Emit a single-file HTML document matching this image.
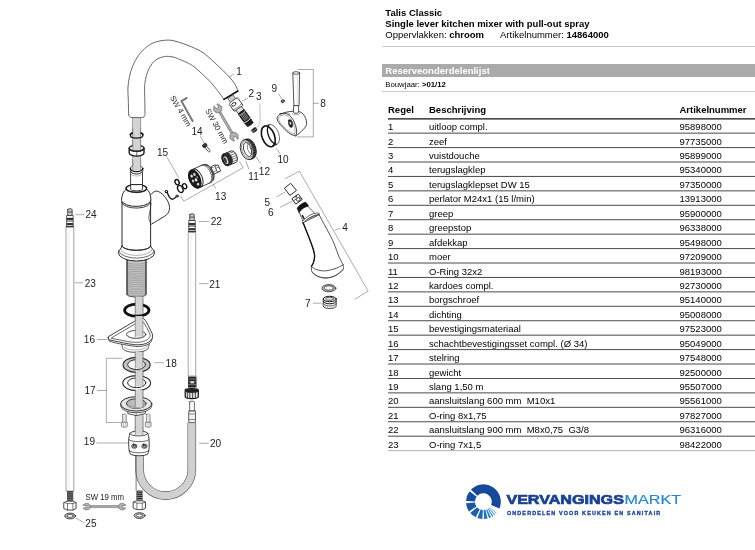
<!DOCTYPE html>
<html><head><meta charset="utf-8">
<style>
html,body{margin:0;padding:0;background:#fff;}
body{width:755px;height:550px;position:relative;overflow:hidden;font-family:"Liberation Sans",sans-serif;color:#000;}
.t{position:absolute;white-space:nowrap;font-size:9.4px;line-height:12px;}
.b{font-weight:bold;}
.r{position:absolute;left:0;height:14px;width:755px;font-size:9.5px;line-height:14px;white-space:nowrap;}
.r span{position:absolute;top:0;}
.c1{left:388px;}.c2{left:429px;}.c3{left:679.5px;}
.ln{position:absolute;left:388px;width:367px;height:1px;background:#4a4a4a;}
.hl{position:absolute;left:382px;width:373px;height:1px;background:#c8c8c8;}
#dg{position:absolute;left:0;top:0;}
#wrap{position:absolute;left:0;top:0;width:755px;height:550px;will-change:transform;background:transparent;}
</style></head><body><div id="wrap">

<svg id="dg" width="380" height="550" viewBox="0 0 380 550" fill="none" stroke="#2a2a2a" stroke-width="0.8" stroke-linecap="round" stroke-linejoin="round" font-family="Liberation Sans">
<rect x="132.8" y="116" width="7.8" height="50" fill="#d4d4d4" stroke="#666" stroke-width="0.6"/>
<path d="M128.6 114.5C128.6 112.1 128.4 104.4 128.3 100.0C128.2 95.6 127.7 91.9 127.9 88.0C128.1 84.1 128.7 80.3 129.5 76.6C130.3 72.9 131.2 69.5 132.7 66.0C134.2 62.5 136.2 58.6 138.5 55.4C140.8 52.2 143.8 49.2 146.5 47.0C149.2 44.8 152.0 43.3 155.0 42.2C158.0 41.1 161.5 40.6 164.5 40.3C167.5 40.0 169.8 40.0 173.0 40.6C176.2 41.2 180.0 42.6 183.6 43.8C187.2 45.0 191.0 46.5 194.3 48.0C197.6 49.5 200.4 50.9 203.5 53.0C206.6 55.1 209.7 58.1 212.8 60.9C215.9 63.7 219.3 67.0 222.1 69.7C224.9 72.4 227.3 74.6 229.5 77.1C231.7 79.6 233.7 82.2 235.1 84.5C236.5 86.8 237.4 89.9 237.9 91.0L223.9 99.4C222.8 97.9 219.7 93.3 217.5 90.5C215.3 87.7 213.3 85.1 211.0 82.6C208.7 80.0 206.3 77.8 203.5 75.2C200.7 72.6 197.1 69.0 194.3 66.9C191.6 64.8 189.1 63.7 187.0 62.6C184.9 61.5 183.8 61.1 181.5 60.2C179.2 59.3 175.8 57.6 173.0 57.0C170.2 56.4 167.2 56.1 164.5 56.5C161.8 56.9 159.2 57.9 157.1 59.1C155.0 60.3 153.4 61.9 151.8 63.9C150.2 65.9 148.9 68.6 147.8 71.3C146.7 74.0 145.9 77.0 145.4 79.8C144.9 82.6 144.7 84.6 144.6 88.0C144.5 91.4 144.7 95.6 144.8 100.0C144.9 104.4 145.0 112.1 145.0 114.5C145 116.5 143.5 117.6 141.6 117.6H132C130 117.6 128.6 116.5 128.6 114.5Z" fill="#fff" stroke="#606060" stroke-width="0.95"/>
<line x1="223.9" y1="99.4" x2="237.9" y2="91" stroke="#111" stroke-width="1.6"/>
<ellipse cx="136.6" cy="135.3" rx="6.3" ry="2.9" fill="none" stroke="#1a1a1a" stroke-width="1.3"/>
<rect x="132.8" y="128" width="7.8" height="7.6" fill="#d4d4d4" stroke="none"/>
<line x1="132.8" y1="128" x2="132.8" y2="135.8" stroke="#666" stroke-width="0.6"/>
<line x1="140.6" y1="128" x2="140.6" y2="135.8" stroke="#666" stroke-width="0.6"/>
<path d="M130.4 134.6A6.3 2.9 0 0 1 132.2 133M143 134.6A6.3 2.9 0 0 0 141.2 133" stroke="#111" stroke-width="1.6"/>
<path d="M129.2 148.2V152.8A7.4 3.3 0 0 0 144 152.8V148.2" fill="#fff" stroke="#1a1a1a" stroke-width="1.4"/>
<ellipse cx="136.6" cy="148.2" rx="7.4" ry="3.0" fill="#fff" stroke="#1a1a1a" stroke-width="1.2"/>
<rect x="132.8" y="140" width="7.8" height="10.4" fill="#d4d4d4" stroke="none"/>
<line x1="132.8" y1="140" x2="132.8" y2="150.4" stroke="#666" stroke-width="0.6"/>
<line x1="140.6" y1="140" x2="140.6" y2="150.4" stroke="#666" stroke-width="0.6"/>
<path d="M129.2 148.2A7.4 3.0 0 0 0 144 148.2" stroke="#1a1a1a" stroke-width="1.2"/>
<line x1="136.8" y1="151.4" x2="136.8" y2="156" stroke="#222" stroke-width="0.7"/>
<path d="M130.6 171V188.5H142.5V171" fill="#fff" stroke-width="0.9"/>
<path d="M130.4 168.4V170.6A6.2 3.2 0 0 0 142.8 170.6V168.4Z" fill="#fff" stroke-width="0.9"/>
<ellipse cx="136.6" cy="168.4" rx="6.2" ry="3.2" fill="#fff" stroke-width="0.8"/>
<rect x="132.8" y="160" width="7.8" height="10.6" fill="#d4d4d4" stroke="none"/>
<line x1="132.8" y1="160" x2="132.8" y2="170.6" stroke="#666" stroke-width="0.6"/>
<line x1="140.6" y1="160" x2="140.6" y2="170.6" stroke="#666" stroke-width="0.6"/>
<path d="M130.4 168.4A6.2 3.2 0 0 0 142.8 168.4V170.6A6.2 3.2 0 0 1 130.4 170.6Z" fill="#fff" stroke="none"/>
<path d="M130.4 168.4A6.2 3.2 0 0 0 142.8 168.4" stroke="#111" stroke-width="1.3"/>
<path d="M130.4 170.8A6.2 3.2 0 0 0 142.8 170.8" stroke-width="0.7"/>
<path d="M130.6 173.4A6 3 0 0 0 142.5 173.4" stroke-width="0.5" stroke="#777"/>
<path d="M150.8 194.5C151.8 193.9 154.3 190.8 156.5 191.0C158.7 191.2 161.9 193.3 164.0 195.7C166.1 198.1 168.7 202.2 169.3 205.2C169.9 208.2 169.4 211.2 167.8 213.5C166.2 215.8 162.6 217.3 160.0 219.0C157.4 220.7 153.3 223.0 152.0 223.8" fill="#fff" stroke-width="1.0"/>
<path d="M122 203V247H150.6V203Z" fill="#fff" stroke="none"/>
<line x1="122" y1="201" x2="122" y2="247" stroke-width="1.0"/>
<line x1="150.6" y1="200" x2="150.6" y2="247" stroke-width="1.0"/>
<path d="M151.1 203.0C150.9 204.3 150.4 208.4 150.0 211.0C149.6 213.6 148.7 216.3 148.9 218.5C149.1 220.7 150.7 223.3 151.1 224.3" stroke-width="0.7"/>
<path d="M126.3 189C123.2 191 121.6 195.5 121.5 200.5A14.7 6.6 0 0 0 150.9 199C150.6 195 149.5 191 146.7 189Z" fill="#fff" stroke-width="1.0"/>
<path d="M121.6 202.4A14.6 6.4 0 0 0 150.8 200.9" stroke-width="0.9"/>
<ellipse cx="136.3" cy="188.4" rx="10.3" ry="3.8" fill="#fff" stroke="#1a1a1a" stroke-width="1.4"/>
<path d="M127.3 189.8A9.3 3.2 0 0 0 145.8 189.8" stroke-width="0.8"/>
<path d="M130.6 185V189.3A6 1.8 0 0 0 142.5 189.3V185Z" fill="#fff" stroke-width="0.9"/>
<path d="M127 260.4V294.6A9.5 2.4 0 0 0 146 294.6V260.4Z" fill="#c4c4c4" stroke-width="0.8"/>
<path d="M127 262.6A9.5 1.6 0 0 0 146 262.6" stroke="#8a8a8a" stroke-width="0.55"/>
<path d="M127 264.5A9.5 1.6 0 0 0 146 264.5" stroke="#8a8a8a" stroke-width="0.55"/>
<path d="M127 266.3A9.5 1.6 0 0 0 146 266.3" stroke="#8a8a8a" stroke-width="0.55"/>
<path d="M127 268.2A9.5 1.6 0 0 0 146 268.2" stroke="#8a8a8a" stroke-width="0.55"/>
<path d="M127 270.0A9.5 1.6 0 0 0 146 270.0" stroke="#8a8a8a" stroke-width="0.55"/>
<path d="M127 271.9A9.5 1.6 0 0 0 146 271.9" stroke="#8a8a8a" stroke-width="0.55"/>
<path d="M127 273.7A9.5 1.6 0 0 0 146 273.7" stroke="#8a8a8a" stroke-width="0.55"/>
<path d="M127 275.6A9.5 1.6 0 0 0 146 275.6" stroke="#8a8a8a" stroke-width="0.55"/>
<path d="M127 277.4A9.5 1.6 0 0 0 146 277.4" stroke="#8a8a8a" stroke-width="0.55"/>
<path d="M127 279.2A9.5 1.6 0 0 0 146 279.2" stroke="#8a8a8a" stroke-width="0.55"/>
<path d="M127 281.1A9.5 1.6 0 0 0 146 281.1" stroke="#8a8a8a" stroke-width="0.55"/>
<path d="M127 283.0A9.5 1.6 0 0 0 146 283.0" stroke="#8a8a8a" stroke-width="0.55"/>
<path d="M127 284.8A9.5 1.6 0 0 0 146 284.8" stroke="#8a8a8a" stroke-width="0.55"/>
<path d="M127 286.7A9.5 1.6 0 0 0 146 286.7" stroke="#8a8a8a" stroke-width="0.55"/>
<path d="M127 288.5A9.5 1.6 0 0 0 146 288.5" stroke="#8a8a8a" stroke-width="0.55"/>
<path d="M127 290.4A9.5 1.6 0 0 0 146 290.4" stroke="#8a8a8a" stroke-width="0.55"/>
<path d="M127 292.2A9.5 1.6 0 0 0 146 292.2" stroke="#8a8a8a" stroke-width="0.55"/>
<path d="M127 294.1A9.5 1.6 0 0 0 146 294.1" stroke="#8a8a8a" stroke-width="0.55"/>
<line x1="127" y1="260.6" x2="127" y2="294.6" stroke-width="0.9"/>
<line x1="146" y1="260.6" x2="146" y2="294.6" stroke-width="0.9"/>
<path d="M122 246C121 249 118.6 250 118.3 252.6A18.2 8.4 0 0 0 154.7 252.6C154.4 250 151.6 249 150.6 246A14.3 4.2 0 0 1 122 246Z" fill="#fff" stroke-width="1.0"/>
<path d="M122 246A14.3 4.4 0 0 0 150.6 246" stroke-width="0.9"/>
<path d="M118.6 250.8A18 8.2 0 0 0 154.4 250.8" stroke-width="0.7"/>
<path d="M120.5 248.6A16 6.8 0 0 0 152.5 248.6" stroke-width="0.5" stroke="#666"/>
<rect x="135.3" y="296.6" width="7.6" height="136" fill="#d4d4d4" stroke="none"/>
<line x1="135.3" y1="297" x2="135.3" y2="432" stroke="#666" stroke-width="0.6"/>
<line x1="142.9" y1="297" x2="142.9" y2="432" stroke="#666" stroke-width="0.6"/>
<ellipse cx="136.8" cy="310.2" rx="12.2" ry="6.0" fill="none" stroke="#111" stroke-width="2.8"/>
<rect x="135.3" y="298" width="7.6" height="14.5" fill="#d4d4d4" stroke="none"/>
<line x1="135.3" y1="298" x2="135.3" y2="312.5" stroke="#666" stroke-width="0.6"/>
<line x1="142.9" y1="298" x2="142.9" y2="312.5" stroke="#666" stroke-width="0.6"/>
<path d="M121.8 343C122 347 122.6 348.5 123.4 349.4A13 4.6 0 0 0 148.4 347.6C149 346 149.2 345 149.2 342Z" fill="#fff" stroke-width="0.8"/>
<path d="M124.3 347.3A12 4.2 0 0 0 147.4 345.6" stroke-width="0.5" stroke="#666"/>
<path d="M108.3 337.8L109.3 341.1C114 342.8 123.2 344.8 137.1 346.6C143 346.4 148 345 150.1 342.9C151.5 341.5 152.3 339.5 152.4 336Z" fill="#fff" stroke-width="0.8"/>
<path d="M108.3 337.8C108 336.8 108.3 336.6 108.8 336.4L134.8 321.1L141 318.6C142.5 318.2 143.4 318.3 144 318.9C146 321 147.5 324 148.4 325.8L152.4 334.1C152.8 335.6 152.6 337.4 151.9 338.7C151 340.3 149.8 341.6 148.2 342.5C145 344.2 141 344.9 137.1 344.8C130 344.4 123.2 342.9 108.8 339.7C108.4 339.3 108.3 338.6 108.3 337.8Z" fill="#fff" stroke-width="0.9"/>
<path d="M111.6 337.8L135.2 323.9L141.5 321.6C142.4 321.4 143 321.6 143.5 322.4L146.8 327.6L150.1 334.6C150.3 336 150 337.2 149.1 338.3C148.2 339.4 147 340.1 145.4 340.6C142.8 341.6 140 342.4 137.1 342.4C133.5 342.3 130.5 342 127.8 341.5L111.9 338.4Z" stroke-width="0.7"/>
<ellipse cx="136.2" cy="334.4" rx="9.7" ry="4.0" fill="#fff" stroke-width="0.8"/>
<path d="M128 335.6A8.3 3.2 0 0 0 144.4 335.6" stroke-width="0.5" stroke="#666"/>
<rect x="135.3" y="316" width="7.6" height="20.600000000000023" fill="#d4d4d4" stroke="none"/>
<line x1="135.3" y1="316" x2="135.3" y2="336.6" stroke="#666" stroke-width="0.6"/>
<line x1="142.9" y1="316" x2="142.9" y2="336.6" stroke="#666" stroke-width="0.6"/>
<ellipse cx="136.6" cy="364.9" rx="13.5" ry="7.5" fill="#c4c4c4" stroke-width="1.1"/>
<ellipse cx="136.6" cy="364.59999999999997" rx="8.9" ry="4.9" fill="#fff" stroke-width="1.0"/>
<rect x="135.3" y="352" width="7.6" height="16.30000000000001" fill="#d4d4d4" stroke="none"/>
<line x1="135.3" y1="352" x2="135.3" y2="368.3" stroke="#666" stroke-width="0.6"/>
<line x1="142.9" y1="352" x2="142.9" y2="368.3" stroke="#666" stroke-width="0.6"/>
<ellipse cx="136.7" cy="383.1" rx="13.9" ry="7.5" fill="#fff" stroke-width="1.1"/>
<ellipse cx="136.7" cy="382.8" rx="9.1" ry="4.9" fill="#fff" stroke-width="1.0"/>
<rect x="135.3" y="371" width="7.6" height="15.600000000000023" fill="#d4d4d4" stroke="none"/>
<line x1="135.3" y1="371" x2="135.3" y2="386.6" stroke="#666" stroke-width="0.6"/>
<line x1="142.9" y1="371" x2="142.9" y2="386.6" stroke="#666" stroke-width="0.6"/>
<path d="M127.8 409V413.6L136.2 415.6L145.4 413.6V409Z" fill="#fff" stroke-width="0.8"/>
<line x1="136.2" y1="411" x2="136.2" y2="415.6" stroke-width="0.5"/>
<path d="M120.6 403.9V405.6A15.6 7.2 0 0 0 151.8 405.6V403.9Z" fill="#fff" stroke-width="0.8"/>
<ellipse cx="136.2" cy="403.9" rx="15.6" ry="7.2" fill="#e6e6e6" stroke-width="1.0"/>
<ellipse cx="136.2" cy="403.6" rx="9.8" ry="4.8" fill="#bbb" stroke-width="0.9"/>
<path d="M127.4 405.4A9 3.8 0 0 0 145 405.4L145.6 403.6A9.6 4.6 0 0 1 126.8 403.6Z" fill="#f2f2f2" stroke="#555" stroke-width="0.5"/>
<rect x="135.3" y="390" width="7.6" height="17" fill="#d4d4d4" stroke="none"/>
<line x1="135.3" y1="390" x2="135.3" y2="407" stroke="#666" stroke-width="0.6"/>
<line x1="142.9" y1="390" x2="142.9" y2="407" stroke="#666" stroke-width="0.6"/>
<rect x="135.3" y="416.2" width="7.6" height="15.800000000000011" fill="#d4d4d4" stroke="none"/>
<line x1="135.3" y1="416.2" x2="135.3" y2="432" stroke="#666" stroke-width="0.6"/>
<line x1="142.9" y1="416.2" x2="142.9" y2="432" stroke="#666" stroke-width="0.6"/>
<path d="M122.60000000000001 414.6V423H126.2V414.6A1.8 0.6 0 0 0 122.60000000000001 414.6Z" fill="#f4f4f4" stroke="#666" stroke-width="0.7"/>
<line x1="122.60000000000001" y1="416.2" x2="126.2" y2="416.2" stroke="#aaa" stroke-width="0.4"/>
<line x1="122.60000000000001" y1="418.0" x2="126.2" y2="418.0" stroke="#aaa" stroke-width="0.4"/>
<line x1="122.60000000000001" y1="419.8" x2="126.2" y2="419.8" stroke="#aaa" stroke-width="0.4"/>
<line x1="122.60000000000001" y1="421.59999999999997" x2="126.2" y2="421.59999999999997" stroke="#aaa" stroke-width="0.4"/>
<path d="M121.5 422.6V426.2A2.9 1.1 0 0 0 127.30000000000001 426.2V422.6Z" fill="#f0f0f0" stroke="#666" stroke-width="0.7"/>
<line x1="123.5" y1="423.4" x2="123.5" y2="427" stroke="#888" stroke-width="0.4"/>
<line x1="125.30000000000001" y1="423.4" x2="125.30000000000001" y2="427" stroke="#888" stroke-width="0.4"/>
<path d="M146.39999999999998 414.6V423H150.0V414.6A1.8 0.6 0 0 0 146.39999999999998 414.6Z" fill="#f4f4f4" stroke="#666" stroke-width="0.7"/>
<line x1="146.39999999999998" y1="416.2" x2="150.0" y2="416.2" stroke="#aaa" stroke-width="0.4"/>
<line x1="146.39999999999998" y1="418.0" x2="150.0" y2="418.0" stroke="#aaa" stroke-width="0.4"/>
<line x1="146.39999999999998" y1="419.8" x2="150.0" y2="419.8" stroke="#aaa" stroke-width="0.4"/>
<line x1="146.39999999999998" y1="421.59999999999997" x2="150.0" y2="421.59999999999997" stroke="#aaa" stroke-width="0.4"/>
<path d="M145.29999999999998 422.6V426.2A2.9 1.1 0 0 0 151.1 426.2V422.6Z" fill="#f0f0f0" stroke="#666" stroke-width="0.7"/>
<line x1="147.29999999999998" y1="423.4" x2="147.29999999999998" y2="427" stroke="#888" stroke-width="0.4"/>
<line x1="149.1" y1="423.4" x2="149.1" y2="427" stroke="#888" stroke-width="0.4"/>
<path d="M139.6 452V469.5A26.1 26.1 0 0 0 191.8 469.5V423" stroke="#555" stroke-width="8.6" stroke-linecap="butt"/>
<path d="M139.6 452V469.5A26.1 26.1 0 0 0 191.8 469.5V423" stroke="#d0d0d0" stroke-width="7.4" stroke-linecap="butt"/>
<line x1="136.1" y1="455" x2="136.1" y2="490" stroke="#444" stroke-width="0.7"/>
<path d="M130 433.5C128.8 436 128.6 440 128.7 444C128.7 449 129.2 452 130.5 454.3A9.5 2.6 0 0 0 147.6 454.3C148.9 452 149.2 449 149.2 444C149.2 440 148.9 436 147.8 433.5A9 2.4 0 0 0 130 433.5Z" fill="#fff" stroke-width="0.9"/>
<ellipse cx="138.9" cy="433.5" rx="8.9" ry="2.4" fill="#fff" stroke-width="0.8"/>
<path d="M128.9 439.5A10.2 2.6 0 0 0 149 439.5" stroke-width="0.7"/>
<path d="M129.1 450.5A10 2.6 0 0 0 149 450.5" stroke-width="0.7"/>
<rect x="131.70000000000002" y="444.2" width="5.2" height="3.9" rx="1.9" fill="#fff" stroke="#222" stroke-width="0.9"/>
<rect x="133.0" y="445.4" width="2.8" height="1.7" rx="0.8" fill="#fff" stroke="#222" stroke-width="0.9"/>
<rect x="141.8" y="444.2" width="5.2" height="3.9" rx="1.9" fill="#fff" stroke="#222" stroke-width="0.9"/>
<rect x="143.1" y="445.4" width="2.8" height="1.7" rx="0.8" fill="#fff" stroke="#222" stroke-width="0.9"/>
<rect x="135.3" y="428" width="7.6" height="6.6" fill="#d4d4d4" stroke="none"/>
<line x1="135.3" y1="428" x2="135.3" y2="434.7" stroke="#666" stroke-width="0.6"/>
<line x1="142.9" y1="428" x2="142.9" y2="434.8" stroke="#666" stroke-width="0.6"/>
<rect x="66.4" y="227" width="7.3999999999999915" height="264" fill="#fff" stroke="#7a7a7a" stroke-width="0.7"/>
<line x1="68.89999999999999" y1="227" x2="68.89999999999999" y2="491" stroke="#ddd" stroke-width="0.5"/>
<path d="M67.7 209.60000000000002V215.8H72.10000000000001V209.60000000000002A2.2 0.9 0 0 0 67.7 209.60000000000002Z" fill="#ccc" stroke-width="0.8"/>
<line x1="67.7" y1="212.0" x2="72.10000000000001" y2="212.0" stroke="#333" stroke-width="0.8"/>
<path d="M66.60000000000001 215.8V226.8H73.2V215.8Z" fill="#fff" stroke-width="0.7"/>
<rect x="66.60000000000001" y="217.8" width="6.6" height="2.6" fill="#333" stroke="none"/>
<rect x="66.60000000000001" y="223.0" width="6.6" height="2.2" fill="#333" stroke="none"/>
<line x1="66.60000000000001" y1="221.4" x2="73.2" y2="221.4" stroke-width="0.5"/>
<path d="M66.2 226.4H73.60000000000001" stroke-width="0.9"/>
<path d="M189.8 214.70000000000002V220.9H194.2V214.70000000000002A2.2 0.9 0 0 0 189.8 214.70000000000002Z" fill="#ccc" stroke-width="0.8"/>
<line x1="189.8" y1="217.1" x2="194.2" y2="217.1" stroke="#333" stroke-width="0.8"/>
<path d="M188.7 220.9V231.9H195.3V220.9Z" fill="#fff" stroke-width="0.7"/>
<rect x="188.7" y="222.9" width="6.6" height="2.6" fill="#333" stroke="none"/>
<rect x="188.7" y="228.1" width="6.6" height="2.2" fill="#333" stroke="none"/>
<line x1="188.7" y1="226.5" x2="195.3" y2="226.5" stroke-width="0.5"/>
<path d="M188.3 231.5H195.7" stroke-width="0.9"/>
<rect x="188.6" y="232.5" width="7.099999999999994" height="143.5" fill="#fff" stroke="#7a7a7a" stroke-width="0.7"/>
<line x1="190.95" y1="232.5" x2="190.95" y2="376" stroke="#ddd" stroke-width="0.5"/>
<rect x="67.0" y="491" width="6.2" height="9.8" fill="#222" stroke="none"/>
<line x1="67.5" y1="492.2" x2="72.69999999999999" y2="492.2" stroke="#ddd" stroke-width="0.55"/>
<line x1="67.5" y1="494.09999999999997" x2="72.69999999999999" y2="494.09999999999997" stroke="#ddd" stroke-width="0.55"/>
<line x1="67.5" y1="496.0" x2="72.69999999999999" y2="496.0" stroke="#ddd" stroke-width="0.55"/>
<line x1="67.5" y1="497.9" x2="72.69999999999999" y2="497.9" stroke="#ddd" stroke-width="0.55"/>
<line x1="67.5" y1="499.8" x2="72.69999999999999" y2="499.8" stroke="#ddd" stroke-width="0.55"/>
<path d="M64.1 502.5L67.1 501.2H73.1L76.1 502.5V508.6L73.1 510H67.1L64.1 508.6Z" fill="#fff" stroke-width="0.85"/>
<line x1="67.5" y1="503.4" x2="67.5" y2="510" stroke-width="0.6"/>
<line x1="72.89999999999999" y1="503.4" x2="72.89999999999999" y2="510" stroke-width="0.6"/>
<path d="M64.1 502.5L67.5 503.6H72.89999999999999L76.1 502.5" stroke-width="0.6"/>
<ellipse cx="70.19999999999999" cy="516" rx="5.5" ry="2.9" fill="#bbb" stroke-width="0.8"/>
<ellipse cx="70.19999999999999" cy="515.9" rx="3.1" ry="1.5" fill="#fff" stroke-width="0.7"/>
<rect x="136.4" y="490.6" width="6.2" height="9.8" fill="#222" stroke="none"/>
<line x1="136.9" y1="491.8" x2="142.1" y2="491.8" stroke="#ddd" stroke-width="0.55"/>
<line x1="136.9" y1="493.7" x2="142.1" y2="493.7" stroke="#ddd" stroke-width="0.55"/>
<line x1="136.9" y1="495.6" x2="142.1" y2="495.6" stroke="#ddd" stroke-width="0.55"/>
<line x1="136.9" y1="497.5" x2="142.1" y2="497.5" stroke="#ddd" stroke-width="0.55"/>
<line x1="136.9" y1="499.40000000000003" x2="142.1" y2="499.40000000000003" stroke="#ddd" stroke-width="0.55"/>
<path d="M133.5 502.1L136.5 500.8H142.5L145.5 502.1V508.20000000000005L142.5 509.6H136.5L133.5 508.20000000000005Z" fill="#fff" stroke-width="0.85"/>
<line x1="136.9" y1="503.0" x2="136.9" y2="509.6" stroke-width="0.6"/>
<line x1="142.3" y1="503.0" x2="142.3" y2="509.6" stroke-width="0.6"/>
<path d="M133.5 502.1L136.9 503.20000000000005H142.3L145.5 502.1" stroke-width="0.6"/>
<ellipse cx="139.6" cy="515.6" rx="5.5" ry="2.9" fill="#bbb" stroke-width="0.8"/>
<ellipse cx="139.6" cy="515.5" rx="3.1" ry="1.5" fill="#fff" stroke-width="0.7"/>
<rect x="188" y="376.6" width="8.5" height="11" fill="#2a2a2a" stroke="none"/>
<line x1="188.6" y1="379.0" x2="195.9" y2="379.0" stroke="#aaa" stroke-width="0.6"/>
<line x1="188.6" y1="381.8" x2="195.9" y2="381.8" stroke="#aaa" stroke-width="0.6"/>
<line x1="188.6" y1="384.6" x2="195.9" y2="384.6" stroke="#aaa" stroke-width="0.6"/>
<rect x="190.4" y="381.2" width="3.6" height="2.2" fill="#ddd" stroke="none"/>
<path d="M185.2 390C185.2 388.2 198.3 388.2 198.3 390V396.6C198.3 399.4 185.2 399.4 185.2 396.6Z" fill="#e0e0e0" stroke="#111" stroke-width="1.2"/>
<path d="M185.2 390C185.2 388.2 198.3 388.2 198.3 390V391.6C198.3 393.4 185.2 393.4 185.2 391.6Z" fill="#222" stroke="none"/>
<line x1="187.4" y1="392.6" x2="187.4" y2="398.2" stroke="#222" stroke-width="0.8"/>
<line x1="189.8" y1="392.6" x2="189.8" y2="398.2" stroke="#222" stroke-width="0.8"/>
<line x1="192.6" y1="392.6" x2="192.6" y2="398.2" stroke="#222" stroke-width="0.8"/>
<line x1="195.4" y1="392.6" x2="195.4" y2="398.2" stroke="#222" stroke-width="0.8"/>
<path d="M189.7 402V411H194.4V402A2.35 0.9 0 0 0 189.7 402Z" fill="#fff" stroke-width="0.7"/>
<path d="M188.7 411.3V422.6H195.5V411.3Z" fill="#eee" stroke-width="0.7"/>
<line x1="188.7" y1="414" x2="195.5" y2="414" stroke-width="0.5"/>
<line x1="188.7" y1="419.5" x2="195.5" y2="419.5" stroke-width="0.5"/>
<path d="M187.3 97.7L181.5 101.2L193 121.8" stroke="#777" stroke-width="2.0" stroke-linecap="butt" stroke-linejoin="miter"/>
<g transform="translate(215.7 105.1) rotate(59.8)">
<path d="M6.199999999999999 -1.1H34.2V1.1H6.199999999999999Z" fill="#b0b0b0" stroke="#555" stroke-width="0.5"/>
<path d="M0.3 -2.666L3.4439999999999995 -4.3C6.56 -4.3 8.2 -2.365 8.2 0C8.2 2.365 6.56 4.3 3.4439999999999995 4.3L0.3 2.666L0 1.5479999999999998L3.28 1.5479999999999998V-1.5479999999999998L0 -1.5479999999999998Z" fill="#b0b0b0" stroke="#555" stroke-width="0.5"/>
<path d="M40.1 -2.666L36.955999999999996 -4.3C33.839999999999996 -4.3 32.2 -2.365 32.2 0C32.2 2.365 33.839999999999996 4.3 36.955999999999996 4.3L40.1 2.666L40.4 1.5479999999999998L37.12 1.5479999999999998V-1.5479999999999998L40.4 -1.5479999999999998Z" fill="#b0b0b0" stroke="#555" stroke-width="0.5"/>
</g>
<g transform="translate(230.8 97.4) rotate(-35.7)">
<path d="M-3.2 -0.5V4.8H3.2V-0.5Z" fill="#ccc" stroke-width="0.6"/>
<path d="M-5.3 4.4C-5.3 3.5 5.3 3.5 5.3 4.4V13.2C5.3 14.5 -5.3 14.5 -5.3 13.2Z" fill="#fff" stroke-width="0.8"/>
<ellipse cx="-1.6" cy="7.4" rx="2.3" ry="1.6" fill="#fff" stroke-width="0.9"/>
<path d="M-5.3 11.3C-5.3 12.6 5.3 12.6 5.3 11.3" stroke-width="0.6"/>
<path d="M-3.4 13.8V18.2H3.4V13.8Z" fill="#e4e4e4" stroke-width="0.7"/>
<path d="M-3.8 18C-3.8 17.3 3.8 17.3 3.8 18V30.5C3.8 31.4 -3.8 31.4 -3.8 30.5Z" fill="#1c1c1c" stroke="#111" stroke-width="0.7"/>
<line x1="-2.2" y1="20" x2="-2.2" y2="27" stroke="#ddd" stroke-width="0.55"/>
<line x1="-0.7" y1="20" x2="-0.7" y2="27" stroke="#ddd" stroke-width="0.55"/>
<line x1="0.8" y1="20" x2="0.8" y2="27" stroke="#ddd" stroke-width="0.55"/>
<line x1="2.3" y1="20" x2="2.3" y2="27" stroke="#ddd" stroke-width="0.55"/>
<path d="M-3.8 19.4C-3.8 20.2 3.8 20.2 3.8 19.4" stroke="#eee" stroke-width="0.6"/>
<path d="M-3.8 28.4C-3.8 29.3 3.8 29.3 3.8 28.4" stroke="#fff" stroke-width="0.9"/>
<path d="M-3.6 31C-3.6 30.4 3.6 30.4 3.6 31V33.3C3.6 34.3 -3.6 34.3 -3.6 33.3Z" fill="#222" stroke="#111" stroke-width="0.6"/>
</g>
<g transform="translate(254.2 130.0) rotate(-35.7)">
<path d="M-2.6 -1.2C-2.6 -2 2.6 -2 2.6 -1.2V1.2C2.6 2.2 -2.6 2.2 -2.6 1.2Z" fill="#222" stroke="#111" stroke-width="0.5"/>
<path d="M-2.4 0.1C-2.4 0.9 2.4 0.9 2.4 0.1" stroke="#ddd" stroke-width="0.5"/>
</g>
<ellipse cx="282.8" cy="101.3" rx="1.7" ry="1.4" transform="rotate(-25 282.8 101.3)" fill="#555" stroke="#222" stroke-width="0.7"/>
<ellipse cx="282.9" cy="101.2" rx="0.6" ry="0.5" fill="#ccc" stroke="none"/>
<path d="M292.8 73.2L293.9 105.2A2.6 0.9 0 0 0 299.1 105.2L299.6 73.2Z" fill="#fff" stroke-width="0.8"/>
<ellipse cx="296.2" cy="73" rx="3.4" ry="1.3" fill="#fff" stroke-width="0.8"/>
<line x1="297.4" y1="75" x2="297.2" y2="104.5" stroke="#ccc" stroke-width="0.6"/>
<path d="M280.0 114.0C281.1 113.7 284.3 112.7 286.5 112.2C288.7 111.7 290.8 111.3 293.0 111.2C295.2 111.1 297.6 111.0 299.5 111.7C301.4 112.4 302.9 113.7 304.1 115.4C305.3 117.1 306.3 120.0 306.5 121.9C306.7 123.8 306.5 125.1 305.5 126.8C304.5 128.5 302.0 130.8 300.4 132.3C298.8 133.8 296.6 135.3 295.8 135.9L295.8 135.9C294.9 135.6 292.4 135.3 290.2 133.9C288.0 132.5 284.9 129.5 282.8 127.4C280.8 125.3 278.8 122.9 277.9 121.2C277.0 119.5 277.0 118.4 277.4 117.2C277.8 116.0 279.6 114.5 280.0 114.0Z" fill="#fff" stroke-width="0.9"/>
<path d="M280.0 114.0C281.1 113.9 284.5 112.9 286.5 113.6C288.5 114.3 290.6 116.2 292.1 118.2C293.6 120.2 294.8 123.3 295.6 125.6C296.4 127.9 296.7 130.4 296.7 132.1C296.7 133.8 295.9 135.3 295.8 135.9" stroke-width="0.9"/>
<path d="M281.0 115.6C281.8 115.5 284.4 114.6 286.0 115.2C287.6 115.8 289.5 117.5 290.8 119.2C292.1 120.9 293.3 123.5 294.0 125.6C294.7 127.6 295.0 130.1 295.1 131.5C295.2 132.9 294.7 133.6 294.6 134.0" stroke-width="0.5" stroke="#555"/>
<path d="M294.6 134.0C293.8 133.7 291.8 133.4 290.0 132.2C288.2 131.0 285.4 128.5 283.6 126.6C281.8 124.7 280.1 122.5 279.3 121.0C278.5 119.5 278.6 118.5 278.9 117.6C279.2 116.7 280.6 115.9 281.0 115.6" stroke-width="0.5" stroke="#555"/>
<path d="M293.6 106V112.3A2.5 0.9 0 0 0 298.6 112.3V106Z" fill="#fff" stroke-width="0.8"/>
<path d="M292.3 113.4A3.8 1.3 0 0 0 299.9 113.4" stroke-width="0.5" stroke="#555"/>
<path d="M288.6 120.2C290.4 119 292 120.6 292.4 123C292.8 125.6 292.6 127.6 291.2 127.4C289.6 127.2 288 124.6 288.6 120.2Z" fill="#222" stroke="#111" stroke-width="0.6"/>
<ellipse cx="290.4" cy="123.2" rx="0.9" ry="1.5" transform="rotate(-15 290.4 123.2)" fill="#ddd" stroke="none"/>
<line x1="288.8" y1="114" x2="289.8" y2="114.3" stroke-width="0.6"/>
<g transform="translate(268.3 136.4) rotate(-21.2)">
<path d="M0 -10.8H4.6A6.2 10.8 0 0 1 4.6 10.8H0Z" fill="#fff" stroke="#444" stroke-width="0.7"/>
<ellipse cx="0" cy="0" rx="6.2" ry="10.8" fill="#fff" stroke="none"/>
<path d="M4.6 -10.200000000000001A6.2 10.8 0 0 0 4.6 10.200000000000001" stroke="#111" stroke-width="1.3"/>
<ellipse cx="0" cy="0" rx="6.2" ry="10.8" fill="none" stroke="#111" stroke-width="1.6"/>
</g>
<g transform="translate(247.0 149.7) rotate(-17.5)">
<path d="M0 -10.3H2.6A6.3 10.3 0 0 1 2.6 10.3H0Z" fill="#222" stroke="#111" stroke-width="0.9"/>
<line x1="4.230566574619592" y1="-8.3" x2="6.130566574619593" y2="-8.3" stroke="#888" stroke-width="0.4"/>
<line x1="5.507602359728331" y1="-6.250000000000001" x2="7.4076023597283305" y2="-6.250000000000001" stroke="#888" stroke-width="0.4"/>
<line x1="6.252441931897035" y1="-4.200000000000001" x2="8.152441931897036" y2="-4.200000000000001" stroke="#888" stroke-width="0.4"/>
<line x1="6.661221252944955" y1="-2.1500000000000012" x2="8.561221252944955" y2="-2.1500000000000012" stroke="#888" stroke-width="0.4"/>
<line x1="6.799703075291458" y1="-0.10000000000000142" x2="8.699703075291458" y2="-0.10000000000000142" stroke="#888" stroke-width="0.4"/>
<line x1="6.686066820455098" y1="1.9499999999999993" x2="8.586066820455098" y2="1.9499999999999993" stroke="#888" stroke-width="0.4"/>
<line x1="6.305526585817777" y1="3.9999999999999982" x2="8.205526585817777" y2="3.9999999999999982" stroke="#888" stroke-width="0.4"/>
<line x1="5.598667230889003" y1="6.049999999999997" x2="7.498667230889002" y2="6.049999999999997" stroke="#888" stroke-width="0.4"/>
<line x1="4.3915586190173705" y1="8.099999999999998" x2="6.291558619017371" y2="8.099999999999998" stroke="#888" stroke-width="0.4"/>
<ellipse cx="0" cy="0" rx="6.3" ry="10.3" fill="#fff" stroke="#333" stroke-width="0.9"/>
<ellipse cx="0.2" cy="0" rx="5.199999999999999" ry="8.9" fill="none" stroke="#555" stroke-width="0.6"/>
<ellipse cx="0.6" cy="0" rx="3.6999999999999997" ry="7.300000000000001" fill="#fff" stroke="#333" stroke-width="0.9"/>
<path d="M3.0 -5.700000000000001A3.5 6.1000000000000005 0 0 0 3.0 5.700000000000001" stroke-width="0.6" stroke="#444"/>
</g>
<g transform="translate(225.6 159.9) rotate(-22)">
<path d="M0 -6.2H8.6A3.3 6.2 0 0 1 8.6 6.2H0Z" fill="#fff" stroke="#111" stroke-width="0.8"/>
<line x1="3.4" y1="-4.6" x2="10.5125552251525" y2="-4.6" stroke="#333" stroke-width="0.6"/>
<line x1="3.4" y1="-2.3999999999999995" x2="11.342729004016533" y2="-2.3999999999999995" stroke="#333" stroke-width="0.6"/>
<line x1="3.4" y1="-0.1999999999999993" x2="11.598282591608896" y2="-0.1999999999999993" stroke="#333" stroke-width="0.6"/>
<line x1="3.4" y1="2.000000000000001" x2="11.423588547012901" y2="2.000000000000001" stroke="#333" stroke-width="0.6"/>
<line x1="3.4" y1="4.200000000000001" x2="10.727470259888484" y2="4.200000000000001" stroke="#333" stroke-width="0.6"/>
<path d="M3.4 -6.2A3.3 6.2 0 0 1 3.4 6.2" stroke-width="0.6"/>
<ellipse cx="0" cy="0" rx="3.3" ry="6.2" fill="#1e1e1e" stroke="#111" stroke-width="0.9"/>
<path d="M0 -6.2H3.2A3.3 6.2 0 0 1 3.2 6.2H0" fill="#2a2a2a" stroke="none"/>
<ellipse cx="0.2" cy="0.4" rx="1.9999999999999998" ry="4.0" fill="#ddd" stroke="none"/>
<ellipse cx="-0.4" cy="0.2" rx="1.2999999999999998" ry="3.0" fill="#333" stroke="none"/>
</g>
<g transform="translate(194.8 179.1) rotate(-24.6)">
<path d="M17 -3.4H27V3.4H17Z" fill="#fff" stroke-width="0.8"/>
<path d="M19.5 -3.4V3.4M23.5 -3.4V3.4" stroke-width="0.6"/>
<path d="M23.5 -1H27M19.5 1.2H23.5" stroke-width="0.5"/>
<path d="M17 -3.4H20V-4.6H24.5V-3.4" fill="#fff" stroke-width="0.7"/>
<path d="M13 -9.7C16 -9.7 18.5 -6.789999999999999 19 -3.4V3.4C18.5 6.789999999999999 16 9.7 13 9.7Z" fill="#fff" stroke-width="0.8"/>
<path d="M0 -9.7H13A5.4 9.7 0 0 1 13 9.7H0Z" fill="#fff" stroke-width="0.8"/>
<path d="M11.7 -9.7A5.4 9.7 0 0 1 11.7 9.7" stroke-width="0.6"/>
<path d="M14.5 -9.299999999999999A5.4 9.299999999999999 0 0 1 14.5 9.299999999999999" stroke-width="0.5"/>
<path d="M2.2 -9.7A5.4 9.7 0 0 1 2.2 9.7" stroke-width="0.9" stroke="#111"/>
<ellipse cx="0" cy="0" rx="5.4" ry="9.7" fill="#1c1c1c" stroke="#111" stroke-width="1.0"/>
<ellipse cx="-1.6" cy="-4.0" rx="1.2" ry="1.6" fill="#ddd" stroke="none"/>
<ellipse cx="1.6" cy="-4.4" rx="1.1" ry="1.6" fill="#ddd" stroke="none"/>
<ellipse cx="-2.4" cy="1.0" rx="1.0" ry="1.5" fill="#ddd" stroke="none"/>
<ellipse cx="0.8" cy="1.2" rx="1.3" ry="1.7" fill="#e4e4e4" stroke="none"/>
<ellipse cx="0.8" cy="6.0" rx="1.3" ry="1.3" fill="#ddd" stroke="none"/>
<ellipse cx="3.0" cy="-0.8" rx="0.7" ry="1.2" fill="#999" stroke="none"/>
</g>
<g transform="translate(204.6 145.3) rotate(52)">
<path d="M0.5 -1.05H7.2A1 1.05 0 0 1 7.2 1.05H0.5Z" fill="#fff" stroke-width="0.7"/>
<ellipse cx="0" cy="0" rx="1.5" ry="2.3" fill="#444" stroke="#111" stroke-width="0.8"/>
<path d="M1.2 -2.1A1.4 2.2 0 0 1 1.2 2.1" stroke-width="0.7"/>
</g>
<ellipse cx="177.1" cy="182.2" rx="2.0" ry="2.7" transform="rotate(-25 177.1 182.2)" stroke="#111" stroke-width="1.4"/>
<ellipse cx="180.3" cy="189.0" rx="2.5" ry="3.7" transform="rotate(-25 180.3 189.0)" stroke="#111" stroke-width="1.4"/>
<ellipse cx="184.6" cy="186.2" rx="2.0" ry="2.6" transform="rotate(-25 184.6 186.2)" stroke="#111" stroke-width="1.4"/>
<ellipse cx="166.4" cy="191.6" rx="1.3" ry="1.1" stroke="#111" stroke-width="1.1"/>
<path d="M167.2 192.6C168 194.6 168.6 195.8 169.2 196.8C170.2 198.6 171.4 199.4 172.6 199.2C174 198.9 175 198 175.9 197.1" stroke="#111" stroke-width="1.3"/>
<ellipse cx="177" cy="196.1" rx="1.2" ry="1.0" stroke="#111" stroke-width="1.0"/>
<path d="M284.7 188.0L290.7 183.3L296.5 190.4L290.2 195.2Z" fill="#fff" stroke="#2a2a2a" stroke-width="1.0"/>
<g transform="translate(297 199) rotate(-36)">
<path d="M-3.6 -3.2H3.2C3.8 -3.2 4 -2.8 4 -2.2V3.4H-3.6Z" fill="#fff" stroke="#222" stroke-width="0.9"/>
<ellipse cx="0.8" cy="1.0" rx="2.0" ry="1.8" fill="#fff" stroke="#222" stroke-width="0.8"/>
<path d="M-3.6 -0.6H-1.2" stroke-width="0.7"/>
<rect x="-0.2" y="-3.2" width="1.6" height="1.6" fill="#333" stroke="none"/>
</g>
<path d="M297.8 208.5C298.1 209.2 298.8 210.9 299.6 213.0C300.4 215.1 302.3 219.7 302.8 221.0L319.1 213.8L316.4 215.0C315.7 214.2 313.4 211.9 312.0 210.5C310.6 209.1 308.8 207.2 308.2 206.6Z" fill="#fff" stroke-width="0.8"/>
<path d="M297.4 207.8C299.5 204.8 303.4 202.4 305.8 202.2L308.5 205.8C305.5 206.4 301.5 209 299.1 212.3Z" fill="#151515" stroke="#111" stroke-width="0.7"/>
<line x1="302.4" y1="215.6" x2="304.6" y2="219.6" stroke="#111" stroke-width="1.4"/>
<path d="M302.4 221.4C306.1 216.4 313.1 212.8 318.7 213.0L319.5 214.6C314.1 214.6 306.9 218.2 303.3 223.2Z" fill="#fff" stroke-width="0.7"/>
<path d="M303.2 223.1C303.7 224.2 305.0 227.5 306.0 230.0C307.0 232.5 308.1 235.2 309.2 238.0C310.3 240.8 311.5 243.8 312.4 246.7C313.3 249.6 314.4 252.7 314.6 255.4C314.8 258.1 313.9 260.9 313.4 262.7C312.9 264.5 311.7 265.7 311.4 266.3L311.4 266.3C311.5 267.3 311.1 270.5 312.2 272.2C313.3 273.9 315.7 275.4 318.0 276.4C320.3 277.4 323.2 278.1 326.0 278.0C328.8 277.9 332.2 277.1 335.0 275.8C337.8 274.5 341.3 271.6 342.7 270.0C344.1 268.4 343.4 266.9 343.5 266.3L343.5 266.3C343.3 265.8 343.0 265.0 342.3 263.4C341.6 261.8 340.5 260.2 339.1 256.9C337.7 253.6 335.7 247.4 334.0 243.5C332.3 239.6 330.8 236.6 329.1 233.3C327.4 230.1 325.6 227.0 324.0 224.0C322.4 221.0 320.1 216.6 319.3 215.1Z" fill="#fff" stroke-width="0.8"/>
<path d="M303.2 223.1C303.7 224.2 305.0 227.5 306.0 230.0C307.0 232.5 308.1 235.2 309.2 238.0C310.3 240.8 311.5 243.8 312.4 246.7C313.3 249.6 314.4 252.7 314.6 255.4C314.8 258.1 313.9 260.9 313.4 262.7C312.9 264.5 311.7 265.7 311.4 266.3" stroke="#111" stroke-width="1.3"/>
<path d="M311.4 266.3C312.2 266.8 313.8 268.6 316.0 269.4C318.2 270.2 321.5 271.0 324.5 270.9C327.5 270.8 331.2 269.8 334.0 269.0C336.8 268.2 339.4 266.7 341.0 266.0C342.6 265.3 343.1 264.8 343.5 264.6" stroke-width="0.8"/>
<path d="M312.2 272.2C313.2 272.9 315.7 275.4 318.0 276.4C320.3 277.4 323.2 278.1 326.0 278.0C328.8 277.9 332.2 277.1 335.0 275.8C337.8 274.5 341.4 271.0 342.7 270.0" stroke-width="0.7" stroke="#444"/>
<ellipse cx="328.9" cy="288.2" rx="7" ry="3.6" fill="#bbb" stroke-width="0.8"/>
<ellipse cx="328.9" cy="288.0" rx="4.4" ry="2.1" fill="#fff" stroke-width="0.7"/>
<path d="M323.2 299V306A6.5 2.6 0 0 0 336.2 306V299Z" fill="#fff" stroke-width="0.8"/>
<path d="M323.2 301.4A6.5 2.4 0 0 0 336.2 301.4" stroke="#111" stroke-width="1.0"/>
<path d="M323.2 303.6A6.5 2.4 0 0 0 336.2 303.6" stroke-width="0.6"/>
<line x1="325.2" y1="304.5" x2="325.2" y2="307.5" stroke="#777" stroke-width="0.5"/>
<line x1="327.4" y1="305.09999999999997" x2="327.4" y2="308.09999999999997" stroke="#777" stroke-width="0.5"/>
<line x1="329.7" y1="305.09999999999997" x2="329.7" y2="308.09999999999997" stroke="#777" stroke-width="0.5"/>
<line x1="332" y1="305.09999999999997" x2="332" y2="308.09999999999997" stroke="#777" stroke-width="0.5"/>
<line x1="334.2" y1="304.5" x2="334.2" y2="307.5" stroke="#777" stroke-width="0.5"/>
<ellipse cx="329.7" cy="299" rx="6.5" ry="2.7" fill="#fff" stroke="#111" stroke-width="1.0"/>
<ellipse cx="329.7" cy="298.8" rx="4.2" ry="1.6" fill="#ddd" stroke-width="0.7"/>
<g transform="translate(83.2 506.6) rotate(0)">
<path d="M5.2 -1.0H37.199999999999996V1.0H5.2Z" fill="#b0b0b0" stroke="#555" stroke-width="0.5"/>
<path d="M0.3 -2.108L3.024 -3.4C5.760000000000001 -3.4 7.2 -1.87 7.2 0C7.2 1.87 5.760000000000001 3.4 3.024 3.4L0.3 2.108L0 1.224L2.8800000000000003 1.224V-1.224L0 -1.224Z" fill="#b0b0b0" stroke="#555" stroke-width="0.5"/>
<path d="M42.1 -2.108L39.376 -3.4C36.64 -3.4 35.199999999999996 -1.87 35.199999999999996 0C35.199999999999996 1.87 36.64 3.4 39.376 3.4L42.1 2.108L42.4 1.224L39.519999999999996 1.224V-1.224L42.4 -1.224Z" fill="#b0b0b0" stroke="#555" stroke-width="0.5"/>
</g>
<text transform="translate(239 74.85) scale(0.95 1)" font-size="10.6" text-anchor="middle" fill="#222" stroke="none">1</text>
<text transform="translate(251.2 97.25) scale(0.95 1)" font-size="10.6" text-anchor="middle" fill="#222" stroke="none">2</text>
<text transform="translate(258.8 100.15) scale(0.95 1)" font-size="10.6" text-anchor="middle" fill="#222" stroke="none">3</text>
<text transform="translate(323 106.85) scale(0.95 1)" font-size="10.6" text-anchor="middle" fill="#222" stroke="none">8</text>
<text transform="translate(274.2 91.55) scale(0.95 1)" font-size="10.6" text-anchor="middle" fill="#222" stroke="none">9</text>
<text transform="translate(283 162.75) scale(0.95 1)" font-size="10.6" text-anchor="middle" fill="#222" stroke="none">10</text>
<text transform="translate(253.5 180.25) scale(0.95 1)" font-size="10.6" text-anchor="middle" fill="#222" stroke="none">11</text>
<text transform="translate(264.4 175.25) scale(0.95 1)" font-size="10.6" text-anchor="middle" fill="#222" stroke="none">12</text>
<text transform="translate(220.7 199.95) scale(0.95 1)" font-size="10.6" text-anchor="middle" fill="#222" stroke="none">13</text>
<text transform="translate(197.1 135.05) scale(0.95 1)" font-size="10.6" text-anchor="middle" fill="#222" stroke="none">14</text>
<text transform="translate(162.5 155.85) scale(0.95 1)" font-size="10.6" text-anchor="middle" fill="#222" stroke="none">15</text>
<text transform="translate(345.1 230.55) scale(0.95 1)" font-size="10.6" text-anchor="middle" fill="#222" stroke="none">4</text>
<text transform="translate(267.2 205.85) scale(0.95 1)" font-size="10.6" text-anchor="middle" fill="#222" stroke="none">5</text>
<text transform="translate(270.8 216.05) scale(0.95 1)" font-size="10.6" text-anchor="middle" fill="#222" stroke="none">6</text>
<text transform="translate(307.8 307.35) scale(0.95 1)" font-size="10.6" text-anchor="middle" fill="#222" stroke="none">7</text>
<text transform="translate(89.4 343.25) scale(0.95 1)" font-size="10.6" text-anchor="middle" fill="#222" stroke="none">16</text>
<text transform="translate(90.1 393.65) scale(0.95 1)" font-size="10.6" text-anchor="middle" fill="#222" stroke="none">17</text>
<text transform="translate(171.2 367.05) scale(0.95 1)" font-size="10.6" text-anchor="middle" fill="#222" stroke="none">18</text>
<text transform="translate(89.4 445.35) scale(0.95 1)" font-size="10.6" text-anchor="middle" fill="#222" stroke="none">19</text>
<text transform="translate(215.6 446.65) scale(0.95 1)" font-size="10.6" text-anchor="middle" fill="#222" stroke="none">20</text>
<text transform="translate(214.8 288.35) scale(0.95 1)" font-size="10.6" text-anchor="middle" fill="#222" stroke="none">21</text>
<text transform="translate(216.3 225.35) scale(0.95 1)" font-size="10.6" text-anchor="middle" fill="#222" stroke="none">22</text>
<text transform="translate(90.3 286.65) scale(0.95 1)" font-size="10.6" text-anchor="middle" fill="#222" stroke="none">23</text>
<text transform="translate(91 217.75) scale(0.95 1)" font-size="10.6" text-anchor="middle" fill="#222" stroke="none">24</text>
<text transform="translate(90.9 527.15) scale(0.95 1)" font-size="10.6" text-anchor="middle" fill="#222" stroke="none">25</text>
<path d="M229.2 76.9L233.6 74.2" stroke="#666" stroke-width="0.55"/>
<path d="M242.6 101.0L247.8 98.2" stroke="#666" stroke-width="0.55"/>
<path d="M259.8 103.8L260.2 120C260 124 258.5 126 256.6 127.6" stroke="#999" stroke-width="0.6"/>
<path d="M298.3 69.5L313.3 69.5L313.3 136.9L297.5 136.9" stroke="#666" stroke-width="0.55"/>
<path d="M313.3 103.3L318.7 103.3" stroke="#666" stroke-width="0.55"/>
<path d="M278.6 93.8L282.2 99.6" stroke="#666" stroke-width="0.55"/>
<path d="M276.5 148.7L280.1 153.8" stroke="#666" stroke-width="0.55"/>
<path d="M245.9 161.1L248.8 169.1" stroke="#666" stroke-width="0.55"/>
<path d="M256.1 156.7L260.5 163.3" stroke="#666" stroke-width="0.55"/>
<path d="M239.6 161.9L243.2 167.7L183.8 201.2L180.6 196.1" stroke="#666" stroke-width="0.55"/>
<path d="M213.4 184.4L215.3 188.1" stroke="#666" stroke-width="0.55"/>
<path d="M200.5 136.0L203.7 142.5" stroke="#666" stroke-width="0.55"/>
<path d="M166.8 156.8L178.4 177.2" stroke="#666" stroke-width="0.55"/>
<path d="M285.4 178.6L299.4 171.2L368.2 291.1L355.1 299.1" stroke="#666" stroke-width="0.55"/>
<path d="M334.9 230.4L340.0 228.2" stroke="#666" stroke-width="0.55"/>
<path d="M276.7 196.9L284.7 192.2" stroke="#666" stroke-width="0.55"/>
<path d="M280.3 207.3L292.0 201.2" stroke="#666" stroke-width="0.55"/>
<path d="M313.2 303.2L320.9 303.2" stroke="#666" stroke-width="0.55"/>
<path d="M97.4 339.5L107.0 339.5" stroke="#666" stroke-width="0.55"/>
<path d="M121.6 358.3L106.4 358.3L106.4 422.5L121.2 422.5" stroke="#666" stroke-width="0.55"/>
<path d="M97.4 390.5L106.4 390.5" stroke="#666" stroke-width="0.55"/>
<path d="M154.6 362.7L163.7 362.7" stroke="#666" stroke-width="0.55"/>
<path d="M96.7 443.0L128.7 443.0" stroke="#666" stroke-width="0.55"/>
<path d="M199.5 443.3L208.3 443.3" stroke="#666" stroke-width="0.55"/>
<path d="M199.5 283.6L208.3 283.6" stroke="#666" stroke-width="0.55"/>
<path d="M199.2 221.5L208.3 221.5" stroke="#666" stroke-width="0.55"/>
<path d="M75.0 282.8L82.8 282.8" stroke="#666" stroke-width="0.55"/>
<path d="M75.7 214.7L83.7 214.7" stroke="#666" stroke-width="0.55"/>
<path d="M75.9 518.2L84.0 522.5" stroke="#666" stroke-width="0.55"/>
<text x="169.7" y="97.5" font-size="7.9" text-anchor="start" transform="rotate(59.7 169.7 97.5)" textLength="34.3" lengthAdjust="spacingAndGlyphs" fill="#222" stroke="none">SW 4 mm</text>
<text x="204.9" y="110.6" font-size="7.9" text-anchor="start" transform="rotate(60.5 204.9 110.6)" textLength="38.8" lengthAdjust="spacingAndGlyphs" fill="#222" stroke="none">SW 30 mm</text>
<text x="85.5" y="500" font-size="8.3" text-anchor="start" textLength="38.6" lengthAdjust="spacingAndGlyphs" fill="#222" stroke="none">SW 19 mm</text>
</svg>

<div class="t b" style="left:385.3px;top:6.7px;font-size:9.5px">Talis Classic</div>
<div class="t b" style="left:385.3px;top:18.1px;font-size:9.5px">Single lever kitchen mixer with pull-out spray</div>
<div class="t" style="left:385.3px;top:29.4px;font-size:9.5px">Oppervlakken: <b>chroom</b></div>
<div class="t" style="left:500px;top:29.4px;font-size:9.5px">Artikelnummer: <b>14864000</b></div>
<div class="hl" style="top:46px"></div>
<div style="position:absolute;left:382px;top:64.1px;width:373px;height:12.9px;background:#aaa"></div>
<div class="t b" style="left:385.3px;top:64.5px;color:#fff;font-size:9.5px">Reserveonderdelenlijst</div>
<div class="t" style="left:385.3px;top:79.3px;font-size:7.75px">Bouwjaar: <b>&gt;01/12</b></div>
<div class="hl" style="top:90.5px"></div>
<div class="r b" style="top:102.9px"><span class="c1">Regel</span><span class="c2">Beschrijving</span><span class="c3">Artikelnummer</span></div>

<div class="r" style="top:120.20px"><span class="c1">1</span><span class="c2">uitloop compl.</span><span class="c3">95898000</span></div>
<div class="r" style="top:134.63px"><span class="c1">2</span><span class="c2">zeef</span><span class="c3">97735000</span></div>
<div class="r" style="top:149.06px"><span class="c1">3</span><span class="c2">vuistdouche</span><span class="c3">95899000</span></div>
<div class="r" style="top:163.49px"><span class="c1">4</span><span class="c2">terugslagklep</span><span class="c3">95340000</span></div>
<div class="r" style="top:177.92px"><span class="c1">5</span><span class="c2">terugslagklepset DW 15</span><span class="c3">97350000</span></div>
<div class="r" style="top:192.35px"><span class="c1">6</span><span class="c2">perlator M24x1 (15 l/min)</span><span class="c3">13913000</span></div>
<div class="r" style="top:206.78px"><span class="c1">7</span><span class="c2">greep</span><span class="c3">95900000</span></div>
<div class="r" style="top:221.21px"><span class="c1">8</span><span class="c2">greepstop</span><span class="c3">96338000</span></div>
<div class="r" style="top:235.64px"><span class="c1">9</span><span class="c2">afdekkap</span><span class="c3">95498000</span></div>
<div class="r" style="top:250.07px"><span class="c1">10</span><span class="c2">moer</span><span class="c3">97209000</span></div>
<div class="r" style="top:264.50px"><span class="c1">11</span><span class="c2">O-Ring 32x2</span><span class="c3">98193000</span></div>
<div class="r" style="top:278.93px"><span class="c1">12</span><span class="c2">kardoes compl.</span><span class="c3">92730000</span></div>
<div class="r" style="top:293.36px"><span class="c1">13</span><span class="c2">borgschroef</span><span class="c3">95140000</span></div>
<div class="r" style="top:307.79px"><span class="c1">14</span><span class="c2">dichting</span><span class="c3">95008000</span></div>
<div class="r" style="top:322.22px"><span class="c1">15</span><span class="c2">bevestigingsmateriaal</span><span class="c3">97523000</span></div>
<div class="r" style="top:336.65px"><span class="c1">16</span><span class="c2">schachtbevestigingsset compl. (Ø 34)</span><span class="c3">95049000</span></div>
<div class="r" style="top:351.08px"><span class="c1">17</span><span class="c2">stelring</span><span class="c3">97548000</span></div>
<div class="r" style="top:365.51px"><span class="c1">18</span><span class="c2">gewicht</span><span class="c3">92500000</span></div>
<div class="r" style="top:379.94px"><span class="c1">19</span><span class="c2">slang 1,50 m</span><span class="c3">95507000</span></div>
<div class="r" style="top:394.37px"><span class="c1">20</span><span class="c2">aansluitslang 600 mm&nbsp; M10x1</span><span class="c3">95561000</span></div>
<div class="r" style="top:408.80px"><span class="c1">21</span><span class="c2">O-ring 8x1,75</span><span class="c3">97827000</span></div>
<div class="r" style="top:423.23px"><span class="c1">22</span><span class="c2">aansluitslang 900 mm&nbsp; M8x0,75&nbsp; G3/8</span><span class="c3">96316000</span></div>
<div class="r" style="top:437.66px"><span class="c1">23</span><span class="c2">O-ring 7x1,5</span><span class="c3">98422000</span></div>
<svg style="position:absolute;left:0;top:0" width="755" height="550" viewBox="0 0 755 550"><line x1="388" x2="755" y1="133.15" y2="133.15" stroke="#4a4a4a" stroke-width="1"/><line x1="388" x2="755" y1="147.58" y2="147.58" stroke="#4a4a4a" stroke-width="1"/><line x1="388" x2="755" y1="162.01" y2="162.01" stroke="#4a4a4a" stroke-width="1"/><line x1="388" x2="755" y1="176.44" y2="176.44" stroke="#4a4a4a" stroke-width="1"/><line x1="388" x2="755" y1="190.87" y2="190.87" stroke="#4a4a4a" stroke-width="1"/><line x1="388" x2="755" y1="205.30" y2="205.30" stroke="#4a4a4a" stroke-width="1"/><line x1="388" x2="755" y1="219.73" y2="219.73" stroke="#4a4a4a" stroke-width="1"/><line x1="388" x2="755" y1="234.16" y2="234.16" stroke="#4a4a4a" stroke-width="1"/><line x1="388" x2="755" y1="248.59" y2="248.59" stroke="#4a4a4a" stroke-width="1"/><line x1="388" x2="755" y1="263.02" y2="263.02" stroke="#4a4a4a" stroke-width="1"/><line x1="388" x2="755" y1="277.45" y2="277.45" stroke="#4a4a4a" stroke-width="1"/><line x1="388" x2="755" y1="291.88" y2="291.88" stroke="#4a4a4a" stroke-width="1"/><line x1="388" x2="755" y1="306.31" y2="306.31" stroke="#4a4a4a" stroke-width="1"/><line x1="388" x2="755" y1="320.74" y2="320.74" stroke="#4a4a4a" stroke-width="1"/><line x1="388" x2="755" y1="335.17" y2="335.17" stroke="#4a4a4a" stroke-width="1"/><line x1="388" x2="755" y1="349.60" y2="349.60" stroke="#4a4a4a" stroke-width="1"/><line x1="388" x2="755" y1="364.03" y2="364.03" stroke="#4a4a4a" stroke-width="1"/><line x1="388" x2="755" y1="378.46" y2="378.46" stroke="#4a4a4a" stroke-width="1"/><line x1="388" x2="755" y1="392.89" y2="392.89" stroke="#4a4a4a" stroke-width="1"/><line x1="388" x2="755" y1="407.32" y2="407.32" stroke="#4a4a4a" stroke-width="1"/><line x1="388" x2="755" y1="421.75" y2="421.75" stroke="#4a4a4a" stroke-width="1"/><line x1="388" x2="755" y1="436.18" y2="436.18" stroke="#4a4a4a" stroke-width="1"/><line x1="388" x2="755" y1="450.61" y2="450.61" stroke="#b4b4b4" stroke-width="1"/><line x1="388" x2="755" y1="118.8" y2="118.8" stroke="#111" stroke-width="1.3"/></svg>
<svg style="position:absolute;left:440px;top:470px" width="315" height="80" viewBox="440 470 315 80">
<g id="ring" transform="translate(483.4,501.7)">
<path fill="#17489a" d="M-12.52 -12.09A17.4 17.4 0 0 1 16.02 6.80L7.73 3.28A8.4 8.4 0 0 0 -6.04 -5.84Z"/>
<path fill="#3a92d2" d="M13.13 11.42A17.4 17.4 0 0 1 12.73 11.87L6.14 5.73A8.4 8.4 0 0 0 6.34 5.51Z"/>
<path fill="#348bcd" d="M11.76 12.83A17.4 17.4 0 0 1 11.07 13.43L5.34 6.48A8.4 8.4 0 0 0 5.67 6.19Z"/>
<path fill="#2e84c8" d="M9.98 14.25A17.4 17.4 0 0 1 8.83 14.99L4.26 7.24A8.4 8.4 0 0 0 4.82 6.88Z"/>
<path fill="#2a7cc2" d="M7.63 15.64A17.4 17.4 0 0 1 5.66 16.45L2.73 7.94A8.4 8.4 0 0 0 3.68 7.55Z"/>
<path fill="#2674bc" d="M4.21 16.88A17.4 17.4 0 0 1 0.61 17.39L0.29 8.39A8.4 8.4 0 0 0 2.03 8.15Z"/>
<path fill="#226ab4" d="M-1.06 17.37A17.4 17.4 0 0 1 -5.95 16.35L-2.87 7.89A8.4 8.4 0 0 0 -0.51 8.38Z"/>
<path fill="#1f60ac" d="M-7.63 15.64A17.4 17.4 0 0 1 -13.13 11.42L-6.34 5.51A8.4 8.4 0 0 0 -3.68 7.55Z"/>
<path fill="#1c56a4" d="M-14.43 9.73A17.4 17.4 0 0 1 -17.33 1.52L-8.37 0.73A8.4 8.4 0 0 0 -6.96 4.70Z"/>
<path fill="#194e9e" d="M-17.39 -0.61A17.4 17.4 0 0 1 -13.90 -10.47L-6.71 -5.06A8.4 8.4 0 0 0 -8.39 -0.29Z"/>
</g>
<text x="506.4" y="503.6" font-family="Liberation Sans" font-weight="bold" font-size="13.3" fill="#1b428f" stroke="#1b428f" stroke-width="0.7" textLength="117.5" lengthAdjust="spacingAndGlyphs">VERVANGINGS</text>
<text x="624.6" y="503.6" font-family="Liberation Sans" font-size="13.3" fill="#2a86cc" stroke="#2a86cc" stroke-width="0.2" textLength="56.5" lengthAdjust="spacingAndGlyphs">MARKT</text>
<text x="506.9" y="514.8" font-family="Liberation Sans" font-weight="bold" font-size="5.4" fill="#1b428f" stroke="#1b428f" stroke-width="0.32" textLength="153.3" lengthAdjust="spacing">ONDERDELEN VOOR KEUKEN EN SANITAIR</text>
</svg>

</div></body></html>
